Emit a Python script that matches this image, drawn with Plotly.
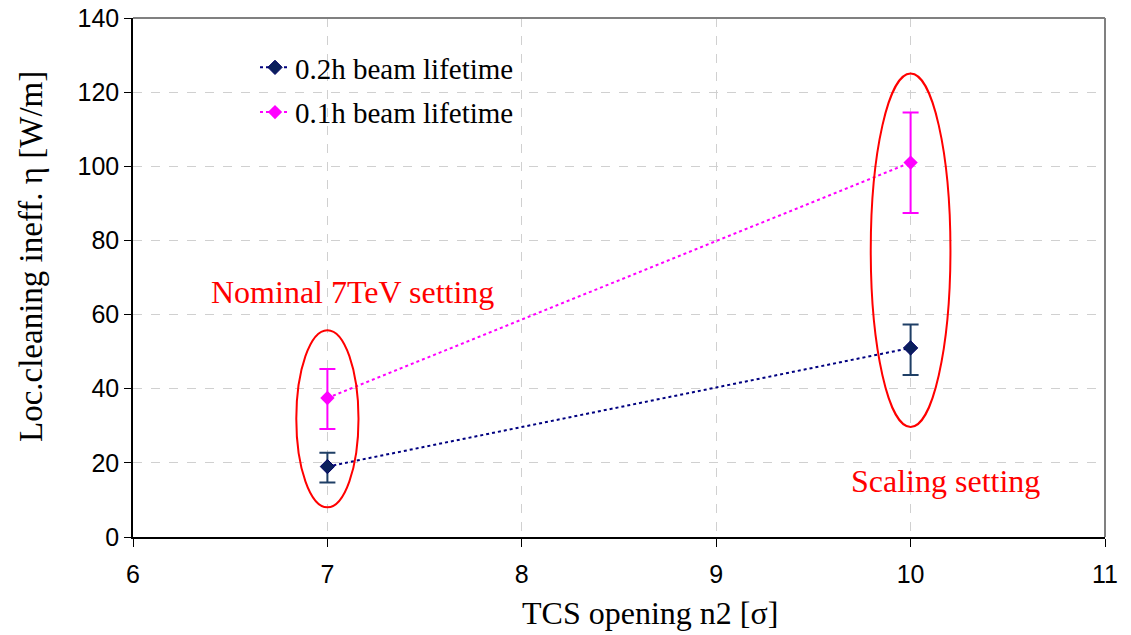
import plotly.graph_objects as go

# TCS opening n2 [sigma]
x_open = [7, 10]

# Local cleaning inefficiency [W/m] with asymmetric uncertainties
eta_02h = [19.0, 51.0]
err_up_02h = [3.7, 6.3]
err_dn_02h = [4.3, 7.3]

eta_01h = [37.5, 101.0]
err_up_01h = [7.8, 13.5]
err_dn_01h = [8.4, 13.6]

series_names = ["0.2h beam lifetime", "0.1h beam lifetime"]

# Highlight ellipses: (x centre, half width, y bottom, y top)
ellipses = [(7.0, 0.16, 8.0, 55.8), (10.0, 0.205, 29.7, 125.0)]
ellipse_labels = [("Nominal 7TeV setting", 7.13, 66.0), ("Scaling setting", 10.18, 15.2)]

serif = "Liberation Serif, Times New Roman, serif"
sans = "Liberation Sans, Arial, sans-serif"

# plot-area geometry in pixels
L, R, T, B = 133, 1105, 18, 537
PW, PH = R - L, B - T

fig = go.Figure()

fig.add_trace(go.Scatter(
    x=x_open, y=eta_02h, name=series_names[0], mode="lines+markers", legendgroup="a",
    line=dict(color="#000080", width=2, dash="dot"),
    marker=dict(symbol="diamond", size=11, color="#0A1F5C", line=dict(color="#000066", width=1)),
    error_y=dict(type="data", symmetric=False, array=err_up_02h, arrayminus=err_dn_02h,
                 color="#1F3F66", thickness=2, width=8),
))
fig.add_trace(go.Scatter(
    x=x_open, y=eta_01h, name=series_names[1], mode="lines+markers", legendgroup="b",
    line=dict(color="#FF00FF", width=2, dash="dot"),
    marker=dict(symbol="diamond", size=11, color="#FF00FF"),
    error_y=dict(type="data", symmetric=False, array=err_up_01h, arrayminus=err_dn_01h,
                 color="#FF00FF", thickness=2, width=8),
))

shapes = []
for xc, hw, y0, y1 in ellipses:
    shapes.append(dict(type="circle", xref="x", yref="y", x0=xc - hw, x1=xc + hw, y0=y0, y1=y1,
                       line=dict(color="#FF0000", width=2), layer="above"))
# gray frame on top and right of the plot area
shapes.append(dict(type="line", xref="paper", yref="paper", x0=0, x1=1, y0=1, y1=1,
                   line=dict(color="#808080", width=2)))
shapes.append(dict(type="line", xref="paper", yref="paper", x0=1, x1=1, y0=0, y1=1,
                   line=dict(color="#808080", width=2)))

annotations = [dict(text=t, x=ax, y=ay, xref="x", yref="y", showarrow=False,
                    xanchor="center", yanchor="middle",
                    font=dict(family=serif, size=32, color="#FF0000"))
               for t, ax, ay in ellipse_labels]

# axis titles
annotations.append(dict(text="TCS opening n2 [σ]", x=(650 - L) / PW, y=-(613 - B) / PH,
                        xref="paper", yref="paper", xanchor="center", yanchor="middle",
                        showarrow=False, font=dict(family=serif, size=32, color="black")))
annotations.append(dict(text="Loc.cleaning ineff. η [W/m]", textangle=-90,
                        x=-(L - 31) / PW, y=(B - 257) / PH, xref="paper", yref="paper",
                        xanchor="center", yanchor="middle",
                        showarrow=False, font=dict(family=serif, size=33, color="black")))

fig.update_layout(
    width=1131, height=635,
    margin=dict(l=L, r=1131 - R, t=T, b=635 - B, autoexpand=False),
    paper_bgcolor="white", plot_bgcolor="white",
    shapes=shapes, annotations=annotations,
    showlegend=True,
    legend=dict(x=(255 - L) / PW, y=(B - 42) / PH, xanchor="left", yanchor="top",
                bgcolor="rgba(0,0,0,0)", font=dict(family=serif, size=29, color="black"),
                tracegroupgap=4),
    xaxis=dict(range=[6, 11], tickvals=[6, 7, 8, 9, 10, 11], showgrid=True,
               gridcolor="#D0D0D0", griddash="dash", gridwidth=1,
               showline=True, linecolor="black", linewidth=1.5,
               ticks="outside", ticklen=8, tickcolor="black", ticklabelstandoff=6,
               tickfont=dict(family=sans, size=25, color="black"),
               zeroline=False, automargin=False),
    yaxis=dict(range=[0, 140], tickvals=list(range(0, 141, 20)), showgrid=True,
               gridcolor="#D0D0D0", griddash="dash", gridwidth=1,
               showline=True, linecolor="black", linewidth=1.5,
               ticks="outside", ticklen=7, tickcolor="black",
               tickfont=dict(family=sans, size=25, color="black"),
               zeroline=False, automargin=False),
)

fig.write_html("out.html")
